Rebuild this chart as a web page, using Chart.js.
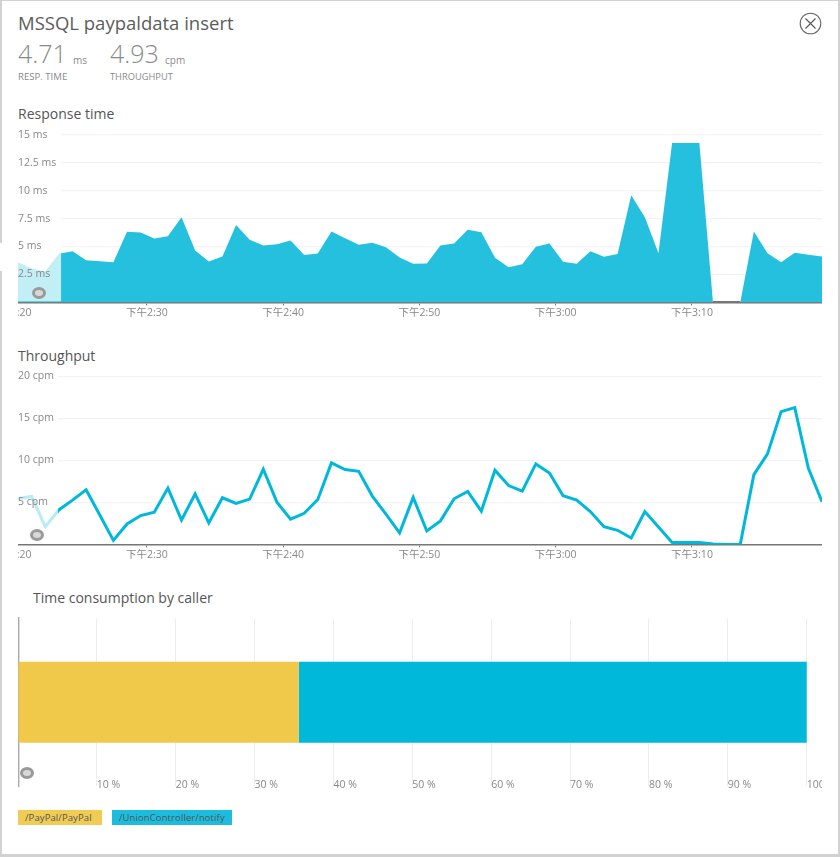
<!DOCTYPE html>
<html><head><meta charset="utf-8">
<script src="https://cdn.jsdelivr.net/npm/chart.js@4/dist/chart.umd.min.js"></script>
<style>
html,body{margin:0;padding:0;background:#fff;overflow:hidden}
body{width:840px;height:857px;position:relative;font-family:"Open Sans","Noto Sans CJK SC",sans-serif;}
#frame{position:absolute;left:0;top:0;width:836px;height:853px;border:2px solid #d2d2d2;border-top-width:1px;border-bottom-width:3px}
.t{position:absolute;white-space:nowrap;line-height:1}
canvas{display:block}
.cv{position:absolute}
.ring{position:absolute;width:8px;height:6px;border:3px solid #9a9a9a;border-radius:50%;background:#d8d8d8;}
.lg{position:absolute;height:15px;line-height:15px;font-size:9.5px;color:#555;box-sizing:border-box;padding-left:7px;letter-spacing:.1px}
</style></head><body>
<div id="frame"></div>
<div style="position:absolute;left:0;top:243px;width:7px;height:28px;background:#fff"></div>
<div class="t" style="left:18px;top:14px;font-size:18.5px;color:#5c5c5c">MSSQL paypaldata insert</div>
<div class="t" style="left:18px;top:41px;font-size:25px;font-weight:300;color:#8a8a8a">4.71</div>
<div class="t" style="left:73px;top:55px;font-size:10px;color:#8a8a8a">ms</div>
<div class="t" style="left:110px;top:41px;font-size:25px;font-weight:300;color:#8a8a8a">4.93</div>
<div class="t" style="left:165px;top:55px;font-size:10px;color:#8a8a8a">cpm</div>
<div class="t" style="left:18px;top:72px;font-size:9.6px;color:#8a8a8a">RESP. TIME</div>
<div class="t" style="left:110px;top:72px;font-size:9.3px;color:#8a8a8a">THROUGHPUT</div>
<div class="t" style="left:18px;top:107px;font-size:14px;color:#555">Response time</div>
<div class="t" style="left:18px;top:349px;font-size:14px;color:#555">Throughput</div>
<div class="t" style="left:33px;top:591px;font-size:14px;color:#555">Time consumption by caller</div>
<svg style="position:absolute;left:799px;top:12px" width="23" height="23" viewBox="0 0 23 23"><circle cx="11.5" cy="11.5" r="10.3" fill="none" stroke="#666" stroke-width="1.1"/><path d="M6.5 6.5L16.5 16.5M16.5 6.5L6.5 16.5" stroke="#555" stroke-width="1.1"/></svg>

<div class="cv" style="left:18px;top:124px;width:804px;height:196px"><canvas id="c1"></canvas></div>
<div class="cv" style="left:18px;top:366px;width:804px;height:196px"><canvas id="c2"></canvas></div>
<div class="cv" style="left:18px;top:612px;width:804px;height:190px"><canvas id="c3"></canvas></div>
<div class="ring" style="left:31.5px;top:287px"></div>
<div class="ring" style="left:29.5px;top:529px"></div>
<div class="ring" style="left:19.5px;top:767px"></div>
<div class="lg" id="lg0" style="left:18px;top:810px;width:84px;background:#f0cc55"></div>
<div class="lg" id="lg1" style="left:112px;top:810px;width:120px;background:#1cbcde"></div>
<script>
const minutes=[20.54,21.54,22.54,23.54,24.54,25.54,26.54,27.54,28.54,29.54,30.54,31.54,32.54,33.54,34.54,35.54,36.54,37.54,38.54,39.54,40.54,41.54,42.54,43.54,44.54,45.54,46.54,47.54,48.54,49.54,50.54,51.54,52.54,53.54,54.54,55.54,56.54,57.54,58.54,59.54,60.54,61.54,62.54,63.54,64.54,65.54,66.54,67.54,68.54,69.54,70.54,71.54,72.54,73.54,74.54,75.54,76.54,77.54,78.54,79.54];
const responseMs=[3.6,3.04,2.77,4.35,4.58,3.78,3.69,3.6,6.31,6.25,5.71,5.92,7.62,4.64,3.66,4.1,6.93,5.6,5.09,5.2,5.54,4.23,4.38,6.34,5.74,5.15,5.33,4.94,4.02,3.45,3.48,5.09,5.27,6.49,6.28,3.99,3.15,3.42,4.97,5.27,3.63,3.45,4.58,4.08,4.32,9.58,7.62,4.4,14.26,14.26,14.26,0,0,0,6.34,4.4,3.6,4.43,4.26,4.1];
const throughputCpm=[5.47,5.7,2.1,4.1,5.27,6.5,3.5,0.48,2.43,3.43,3.83,6.7,2.9,6.0,2.55,5.55,4.87,5.39,8.94,5.03,3.0,3.7,5.35,9.7,8.9,8.7,5.75,3.6,1.36,5.59,1.6,2.8,5.43,6.3,3.95,8.82,7.0,6.34,9.58,8.5,5.79,5.27,3.91,2.11,1.68,0.76,3.91,2.07,0.24,0.24,0.24,0.04,0,0,8.3,10.77,15.8,16.28,9.06,5.07];
const tickMinutes=[20,30,40,50,60,70];
const tickLabels=['下午2:20','下午2:30','下午2:40','下午2:50','下午3:00','下午3:10'];
const callers=['/PayPal/PayPal','/UnionController/notify'];
const callerShare=[35.6,64.4];
const callerColors=['#f0c94b','#00b8d9'];
document.getElementById('lg0').textContent=callers[0];
document.getElementById('lg1').textContent=callers[1];

Chart.defaults.font.family='"Open Sans","Noto Sans CJK SC",sans-serif';
Chart.defaults.animation=false;
Chart.defaults.responsive=false;

function brush(endValue){
  return {
    id:'brush',
    beforeDatasetsDraw(ch){
      const a=ch.chartArea,x=ch.scales.x.getPixelForValue(endValue),c=ch.ctx;
      c.save();c.fillStyle='#fff';c.fillRect(a.left,a.top-2,x-a.left,a.bottom-a.top+1);c.restore();
    },
    afterDatasetsDraw(ch){
      const a=ch.chartArea,x=ch.scales.x.getPixelForValue(endValue),c=ch.ctx;
      c.save();c.fillStyle='rgba(255,255,255,0.72)';c.fillRect(a.left,a.top-2,x-a.left,a.bottom-a.top+1);c.restore();
    }
  };
}
function timeAxis(){
  return {
    type:'linear',min:minutes[0],max:minutes[minutes.length-1],
    afterBuildTicks(s){s.ticks=tickMinutes.map(v=>({value:v}));},
    afterFit(s){s.paddingLeft=0;s.paddingRight=0;},
    grid:{drawOnChartArea:false,drawTicks:true,tickLength:3,color:'#777'},
    border:{color:'#777',width:1.6},
    ticks:{autoSkip:false,maxRotation:0,padding:1,color:'#888',font:{size:10.5},
      callback:v=>tickLabels[tickMinutes.indexOf(v)]}
  };
}
function valueAxis(max,step,unit){
  return {
    min:0,max:max,
    grid:{color:'#f3f3f3',lineWidth:1.2,drawTicks:false},
    border:{display:false},
    ticks:{stepSize:step,mirror:true,padding:0,z:1,color:'#888',font:{size:10.5},
      callback:v=>v===0?'':v+' '+unit}
  };
}
function timeChart(id,values,lineOpts,max,step,unit,brushEnd,top){
  const el=document.getElementById(id);el.width=804;el.height=196;
  new Chart(el,{
    type:'line',
    data:{datasets:[Object.assign({data:values.map((v,i)=>({x:minutes[i],y:v})),pointRadius:0,tension:0},lineOpts)]},
    options:{
      layout:{padding:{top:top,left:0,right:0,bottom:0}},
      plugins:{legend:{display:false},tooltip:{enabled:false}},
      scales:{x:timeAxis(),y:valueAxis(max,step,unit)}
    },
    plugins:[brush(brushEnd)]
  });
}
timeChart('c1',responseMs,{fill:'origin',backgroundColor:'#24c0dd',borderWidth:3,borderColor:'rgba(0,0,0,0)',
  segment:{borderColor:c=>(c.p0.parsed.y===0&&c.p1.parsed.y===0)?'#777':'rgba(0,0,0,0)'}},15,2.5,'ms',23.7,10.7);
timeChart('c2',throughputCpm,{fill:false,borderColor:'#00b8d9',borderWidth:3,borderJoinStyle:'miter'},20,5,'cpm',23.47,10.3);

const el3=document.getElementById('c3');el3.width=804;el3.height=190;
new Chart(el3,{
  type:'bar',
  data:{labels:['caller'],datasets:callers.map((n,i)=>({label:n,data:[callerShare[i]],backgroundColor:callerColors[i],barPercentage:1,categoryPercentage:0.483}))},
  options:{
    indexAxis:'y',
    layout:{padding:{top:6.5,left:0,right:0,bottom:0}},
    plugins:{legend:{display:false},tooltip:{enabled:false}},
    scales:{
      x:{stacked:true,min:0,max:101.94,
        afterFit(s){s.paddingLeft=0;s.paddingRight=0;s.height=16;s._computeLabelArea=()=>undefined;},
        grid:{color:'#ededed',drawTicks:false},border:{display:false},
        ticks:{stepSize:10,includeBounds:false,align:'start',autoSkip:false,maxRotation:0,padding:-7,color:'#888',font:{size:10.5},
          callback:v=>v===0?'':v+' %'}},
      y:{stacked:true,display:true,afterFit(s){s.width=0;},
        grid:{display:false},border:{color:'#aaa',width:2.4},ticks:{display:false}}
    }
  }
});
</script>
</body></html>
